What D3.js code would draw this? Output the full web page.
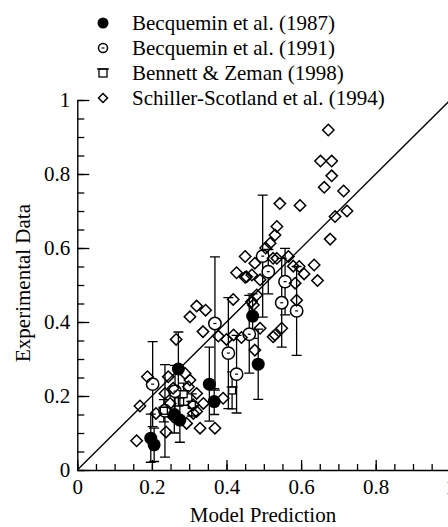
<!DOCTYPE html>
<html>
<head>
<meta charset="utf-8">
<script src="https://cdn.jsdelivr.net/npm/d3@7"></script>
<style>
body { margin: 0; background: #fff; }
text { font-family: "Liberation Serif", "Times New Roman", serif; }
</style>
</head>
<body>
<svg id="chart" width="448" height="527"></svg>
<script>
var becq87 = [
    [0.197, 0.086, 0.065], [0.206, 0.068, 0.045], [0.271, 0.273, 0.10],
    [0.275, 0.135, 0.06], [0.26, 0.15, 0.05], [0.354, 0.232, 0.10],
    [0.367, 0.185, 0.035], [0.47, 0.416, 0.06], [0.485, 0.286, 0.095]
];

var becq91 = [
    [0.202, 0.232, 0.115], [0.235, 0.16, 0.125], [0.262, 0.213, 0.07],
    [0.369, 0.396, 0.18], [0.405, 0.316, 0.15], [0.427, 0.259, 0.105],
    [0.461, 0.367, 0.105], [0.497, 0.578, 0.165], [0.512, 0.536, 0.06],
    [0.557, 0.509, 0.09], [0.548, 0.452, 0.12], [0.588, 0.43, 0.12]
];

var bennett = [
    [0.232, 0.16, 0.03], [0.285, 0.205, 0.03], [0.307, 0.176, 0.03],
    [0.415, 0.215, 0.05]
];

// no error bars for this one
var schiller = [
    [0.159, 0.079], [0.168, 0.173], [0.188, 0.252], [0.211, 0.153], [0.238, 0.103],
    [0.249, 0.18], [0.235, 0.207], [0.257, 0.221], [0.257, 0.144], [0.244, 0.252],
    [0.265, 0.353], [0.289, 0.261], [0.302, 0.243], [0.298, 0.225], [0.293, 0.126],
    [0.311, 0.176], [0.311, 0.153], [0.32, 0.207], [0.32, 0.158], [0.329, 0.113],
    [0.338, 0.18], [0.369, 0.113], [0.391, 0.194], [0.302, 0.414], [0.32, 0.443],
    [0.344, 0.432], [0.337, 0.374], [0.378, 0.362], [0.40, 0.353], [0.419, 0.365],
    [0.44, 0.358], [0.418, 0.461], [0.427, 0.533], [0.45, 0.577], [0.45, 0.521],
    [0.476, 0.559], [0.454, 0.522], [0.467, 0.455], [0.472, 0.446], [0.481, 0.473],
    [0.468, 0.527], [0.49, 0.514], [0.476, 0.324], [0.49, 0.383], [0.525, 0.36],
    [0.548, 0.383], [0.53, 0.365], [0.535, 0.572], [0.505, 0.60], [0.566, 0.577],
    [0.579, 0.551], [0.595, 0.55], [0.608, 0.53], [0.635, 0.554], [0.644, 0.512],
    [0.584, 0.505], [0.588, 0.459], [0.53, 0.635], [0.517, 0.613], [0.535, 0.658],
    [0.543, 0.72], [0.597, 0.715], [0.678, 0.624], [0.691, 0.685], [0.723, 0.70],
    [0.714, 0.754], [0.662, 0.764], [0.682, 0.795], [0.652, 0.835], [0.682, 0.835],
    [0.673, 0.919], [0.525, 0.572]
];

var legendNames = [
    "Becquemin et al. (1987)",
    "Becquemin et al. (1991)",
    "Bennett & Zeman (1998)",
    "Schiller-Scotland et al. (1994)"
];

var majorTicks = [0, 0.2, 0.4, 0.6, 0.8, 1];
var minorTicks = d3.range(0, 1.001, 0.05);

var svg = d3.select("#chart");

var x = d3.scaleLinear().domain([0, 1]).range([77.3, 450.3]);
var y = d3.scaleLinear().domain([0, 1]).range([470, 100]);

var fmt = d3.format("~g");

// minor ticks first, then major ones with labels
svg.append("g")
    .attr("transform", "translate(0,470)")
    .call(d3.axisBottom(x).tickValues(minorTicks).tickSize(-6).tickFormat(""))
    .call(function (g) { g.select(".domain").remove(); });

svg.append("g")
    .attr("transform", "translate(77.3,0)")
    .call(d3.axisLeft(y).tickValues(minorTicks).tickSize(-7).tickFormat(""))
    .call(function (g) { g.select(".domain").remove(); });

var xAxis = svg.append("g")
    .attr("transform", "translate(0,470)")
    .call(d3.axisBottom(x).tickValues(majorTicks).tickSize(-10).tickSizeOuter(0).tickPadding(9).tickFormat(fmt));

var yAxis = svg.append("g")
    .attr("transform", "translate(77.3,0)")
    .call(d3.axisLeft(y).tickValues(majorTicks).tickSize(-12).tickSizeOuter(0).tickPadding(7).tickFormat(fmt));

svg.selectAll(".tick line").attr("stroke", "#000").attr("stroke-width", 1.3);
svg.selectAll(".domain").attr("stroke", "#000").attr("stroke-width", 1.4);
svg.selectAll(".tick text")
    .attr("fill", "#000")
    .style("font-size", "21px")
    .style("font-family", '"Liberation Serif", "Times New Roman", serif');

// axis titles
svg.append("text")
    .attr("x", 263)
    .attr("y", 522)
    .attr("text-anchor", "middle")
    .style("font-size", "21px")
    .text("Model Prediction");

svg.append("text")
    .attr("transform", "translate(30,283) rotate(-90)")
    .attr("text-anchor", "middle")
    .style("font-size", "21px")
    .text("Experimental Data");

// the 1:1 line
svg.append("line")
    .attr("x1", x(0)).attr("y1", y(0))
    .attr("x2", x(1)).attr("y2", y(1))
    .attr("stroke", "#000")
    .attr("stroke-width", 1.3);

// error bars for the three series that have them
var withErr = becq87.concat(becq91, bennett);

var bars = svg.append("g")
    .attr("stroke", "#000")
    .attr("stroke-width", 1.3);

bars.selectAll(".bar")
    .data(withErr)
    .enter().append("path")
    .attr("fill", "none")
    .attr("d", function (d) {
        var cx = x(d[0]), top = y(d[1] + d[2]), bot = y(d[1] - d[2]);
        return "M" + cx + "," + top + "V" + bot +
            "M" + (cx - 5) + "," + top + "H" + (cx + 5) +
            "M" + (cx - 5) + "," + bot + "H" + (cx + 5);
    });

// diamonds
function diamond(g, cx, cy, r) {
    g.append("path")
        .attr("d", "M" + cx + "," + (cy - r) + "L" + (cx + r) + "," + cy +
            "L" + cx + "," + (cy + r) + "L" + (cx - r) + "," + cy + "Z")
        .attr("fill", "none")
        .attr("stroke", "#000")
        .attr("stroke-width", 1.5);
}

function openCircle(g, cx, cy, r) {
    g.append("circle")
        .attr("cx", cx).attr("cy", cy).attr("r", r)
        .attr("fill", "#fff")
        .attr("stroke", "#000")
        .attr("stroke-width", 1.5);
    g.append("line")
        .attr("x1", cx - 1.5).attr("x2", cx + 1.5)
        .attr("y1", cy).attr("y2", cy)
        .attr("stroke", "#000")
        .attr("stroke-width", 1.2);
}

function square(g, cx, cy, r) {
    g.append("rect")
        .attr("x", cx - r).attr("y", cy - r)
        .attr("width", 2 * r).attr("height", 2 * r)
        .attr("fill", "#fff")
        .attr("stroke", "#000")
        .attr("stroke-width", 1.3);
    g.append("line")
        .attr("x1", cx - r - 2).attr("x2", cx + r + 2)
        .attr("y1", cy - r).attr("y2", cy - r)
        .attr("stroke", "#000")
        .attr("stroke-width", 1.3);
}

function filledCircle(g, cx, cy, r) {
    g.append("circle")
        .attr("cx", cx).attr("cy", cy).attr("r", r)
        .attr("fill", "#000");
}

var marks = svg.append("g");

becq91.forEach(function (d) { openCircle(marks, x(d[0]), y(d[1]), 6.2); });
bennett.forEach(function (d) { square(marks, x(d[0]), y(d[1]), 3.5); });
schiller.forEach(function (d) { diamond(marks, x(d[0]), y(d[1]), 5.7); });
becq87.forEach(function (d) { filledCircle(marks, x(d[0]), y(d[1]), 6.5); });

// legend
var legend = svg.append("g");
var rowY = [23, 48, 73, 98];
var drawers = [
    function (g, cx, cy) { filledCircle(g, cx, cy, 5.5); },
    function (g, cx, cy) { openCircle(g, cx, cy, 4.5); },
    function (g, cx, cy) { square(g, cx, cy, 4); },
    function (g, cx, cy) { diamond(g, cx, cy, 4.5); }
];

legendNames.forEach(function (name, i) {
    drawers[i](legend, 103, rowY[i]);
    legend.append("text")
        .attr("x", 132)
        .attr("y", rowY[i] + 7)
        .style("font-size", "21px")
        .text(name);
});
</script>
</body>
</html>
